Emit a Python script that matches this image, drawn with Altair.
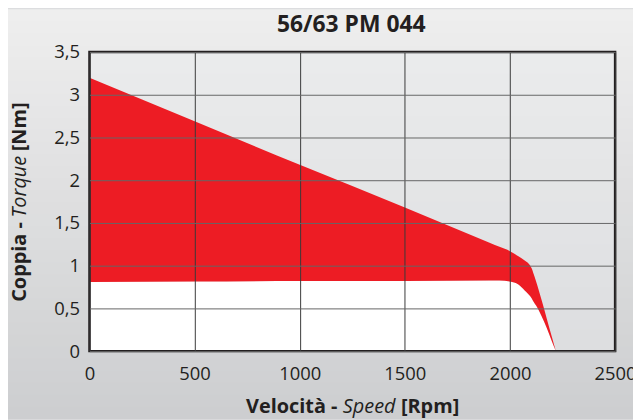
import altair as alt
import pandas as pd

# ---- data ----
speed = [0, 500, 1000, 1500, 1900, 1950, 2000, 2040, 2070, 2090, 2103, 2113, 2125, 2150, 2175, 2200, 2218]
torque_max = [3.20, 2.69, 2.18, 1.68, 1.27, 1.22, 1.17, 1.11, 1.06, 1.02, 0.97, 0.90, 0.81, 0.60, 0.38, 0.16, 0.0]
torque_cont = [0.81, 0.815, 0.82, 0.82, 0.825, 0.825, 0.815, 0.78, 0.71, 0.66, 0.62, 0.575, 0.53, 0.41, 0.27, 0.11, 0.0]
x_ticks = [0, 500, 1000, 1500, 2000, 2500]
y_ticks = [0, 0.5, 1, 1.5, 2, 2.5, 3, 3.5]
title_text = "56/63 PM 044"
x_title = ["Velocità -", "Speed", "[Rpm]"]
y_title = ["Coppia -", "Torque", "[Nm]"]

df = pd.DataFrame({"speed": speed, "upper": torque_max, "lower": torque_cont})

W, H = 529, 301
PL, PT, PR, PB = 82, 43, 18, 68
FONT = "Open Sans"
INK = "#231f20"

one = pd.DataFrame({"k": [0]})


def hexmix(c0, c1, t):
    return "#" + "".join("%02x" % round(a + (b - a) * t) for a, b in zip(c0, c1))


def bands(x0, x1, y0, y1, c0, c1, n):
    layers = []
    step = (y1 - y0) / n
    for i in range(n):
        layers.append(alt.Chart(one).mark_rect(fill=hexmix(c0, c1, i / (n - 1))).encode(
            x=alt.value(x0), x2=alt.value(x1),
            y=alt.value(y0 + i * step), y2=alt.value(y0 + (i + 1) * step + 0.6)))
    return layers


page_bg = bands(-PL, W + PR, -PT, H + PB, (238, 238, 238), (205, 206, 208), 34)
plot_bg = bands(0, W, 0, H, (234, 235, 236), (221, 222, 224), 14)

x_axis = alt.Axis(values=x_ticks, title=None, grid=True, gridColor="#3a3a3a", gridWidth=1,
                  ticks=False, domain=False, labelFont=FONT, labelFontSize=18.5, format="d",
                  labelColor=INK, labelPadding=14, zindex=1, labelFlush=False)
y_axis = alt.Axis(values=y_ticks, title=None, grid=True, gridColor="#666666", gridWidth=1,
                  ticks=False, domain=False, labelFont=FONT, labelFontSize=18.5,
                  labelColor=INK, labelPadding=10, zindex=1, format="~g",
                  labelExpr="replace(datum.label, '.', ',')", labelFlush=False)
xs = alt.Scale(domain=[0, 2500], nice=False)
ys = alt.Scale(domain=[0, 3.5], nice=False)

white = alt.Chart(df).mark_area(color="#ffffff", interpolate="monotone").encode(
    x=alt.X("speed:Q", scale=xs, axis=x_axis),
    y=alt.Y("lower:Q", scale=ys, axis=y_axis))
red = alt.Chart(df).mark_area(color="#ed1c24", interpolate="monotone").encode(
    x=alt.X("speed:Q", scale=xs, axis=x_axis),
    y=alt.Y("upper:Q", scale=ys, axis=y_axis),
    y2="lower:Q")

border = alt.Chart(one).mark_rect(fillOpacity=0, stroke=INK, strokeWidth=2.5).encode(
    x=alt.value(0), x2=alt.value(W), y=alt.value(0), y2=alt.value(H))


def txt(s, x, y, size, weight="bold", style="normal", align="center", angle=0):
    return alt.Chart(pd.DataFrame({"t": [s]})).mark_text(
        font=FONT, fontSize=size, fontWeight=weight, fontStyle=style, color=INK,
        align=align, baseline="middle", angle=angle).encode(
        text="t:N", x=alt.value(x), y=alt.value(y))


# title
t_main = txt(title_text, W / 2 - 1, -27, 23)

# x title (mixed styles)
fs = 20
sp = 5.2
b1, it, b2 = 94.0, 53.5, 60.0
total = b1 + sp + it + sp + b2
start = W / 2 - total / 2
it_l = start + b1 + sp
it_r = it_l + it
xt_y = 357
xt1 = txt(x_title[0], it_l - sp, xt_y, fs, align="right")
xt2 = txt(x_title[1], it_l + it / 2, xt_y, fs, weight="normal", style="italic")
xt3 = txt(x_title[2], it_r + sp, xt_y, fs, align="left")

# y title (mixed styles, rotated)
yb1, yit, yb2 = 79.2, 60.9, 49.2
ytot = yb1 + sp + yit + sp + yb2
ybot = H / 2 + ytot / 2
yit_bot = ybot - yb1 - sp
yit_top = yit_bot - yit
yt_x = -70
yt1 = txt(y_title[0], yt_x, yit_bot + sp, fs, align="right", angle=270)
yt2 = txt(y_title[1], yt_x, (yit_bot + yit_top) / 2, fs, weight="normal", style="italic", angle=270)
yt3 = txt(y_title[2], yt_x, yit_top - sp, fs, align="left", angle=270)

chart = alt.layer(
    *page_bg, *plot_bg, white, red, border, t_main, xt1, xt2, xt3, yt1, yt2, yt3
).properties(
    width=W, height=H,
    autosize=alt.AutoSizeParams(type="none"),
    padding={"left": PL, "top": PT, "right": PR, "bottom": PB},
).configure(background="#dcdddf").configure_view(strokeWidth=0)

chart.save("out.html", embed_options={"renderer": "svg", "actions": False})
